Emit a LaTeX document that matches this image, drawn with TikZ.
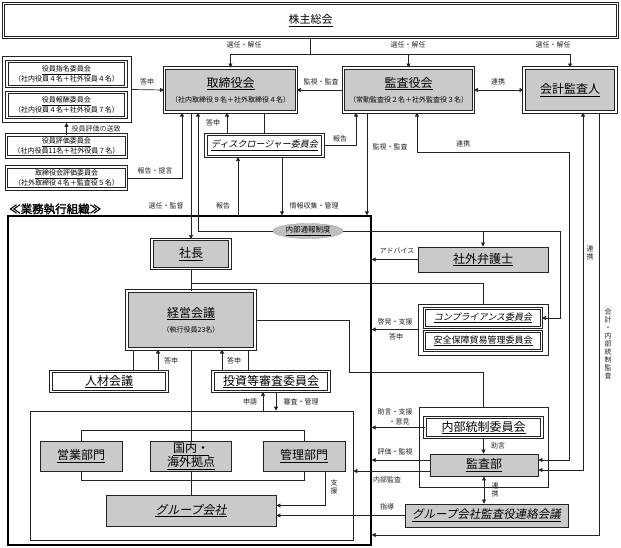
\documentclass[tikz,border=0pt]{standalone}
\usepackage{fontspec}
\setmainfont{Noto Sans CJK JP}
\newfontfamily\jit{Noto Sans CJK JP}[FakeSlant=0.2]
\newfontfamily\jbf{Noto Sans CJK JP}[FakeBold=2]
\usetikzlibrary{arrows.meta,shapes.geometric}
\definecolor{lncol}{RGB}{35,35,35}
\definecolor{boxgray}{RGB}{202,202,202}
\newcommand\jsz[1]{\fontsize{#1}{#1}\selectfont}
\begin{document}
\begin{tikzpicture}[x=1pt,y=-1pt,
  base/.style={draw=lncol, line width=0.9pt, inner sep=0pt, align=center, font=\fontsize{12}{14}\selectfont},
  dbl/.style={base, line width=1pt, double=white, double distance=1.4pt},
  gdbl/.style={dbl, fill=boxgray},
  wdbl/.style={dbl, fill=white},
  gbox/.style={base, fill=boxgray},
  grp/.style={draw=lncol, line width=0.65pt, inner sep=0pt},
  conn/.style={draw=lncol, line width=0.7pt},
  arr/.style={conn, -{Triangle[length=4pt,width=4pt]}},
  darr/.style={conn, {Triangle[length=4pt,width=4pt]}-{Triangle[length=4pt,width=4pt]}},
  lbl/.style={font=\fontsize{7}{8.5}\selectfont, inner sep=0.5pt, text=black!85, align=center},
  vlbl/.style={font=\fontsize{7}{8}\selectfont, inner sep=0.5pt, text=black!85, align=center},
  small/.style={font=\fontsize{7}{8.2}\selectfont}
]
\useasboundingbox (0,0) rectangle (621,547);

% ---- top level
\node[wdbl, minimum width=614pt, minimum height=34pt, font=\fontsize{11}{13}\selectfont] (kabu) at (310.5,20.5) {\underline{株主総会}};
\node[gdbl, minimum width=132pt, minimum height=44pt] (tori) at (230.5,90) {\underline{取締役会}\\[1pt]{\jsz{7}（社内取締役９名＋社外取締役４名）}};
\node[gdbl, minimum width=130pt, minimum height=44pt] (kansa) at (408.5,90) {\underline{監査役会}\\[1pt]{\jsz{7}（常勤監査役２名＋社外監査役３名）}};
\node[gdbl, minimum width=92pt, minimum height=44pt] (kaikei) at (570,90) {\underline{会計監査人}};

% ---- left committees
\node[grp, minimum width=129pt, minimum height=66pt] (lgrp) at (66.5,89.5) {};
\node[wdbl, small, minimum width=119pt, minimum height=25pt] (shimei) at (66.5,74) {\underline{役員指名委員会}\\（社内役員４名＋社外役員４名）};
\node[wdbl, small, minimum width=119pt, minimum height=25pt] (hoshu) at (66.5,105) {\underline{役員報酬委員会}\\（社内役員４名＋社外役員７名）};
\node[wdbl, small, minimum width=120pt, minimum height=22pt] (hyoka) at (66.5,146) {\underline{役員評価委員会}\\（社内役員11名＋社外役員７名）};
\node[wdbl, small, minimum width=120pt, minimum height=22pt] (torihyoka) at (66.5,178) {\underline{取締役会評価委員会}\\（社外取締役４名＋監査役５名）};

% ---- disclosure
\node[wdbl, minimum width=117pt, minimum height=22pt, font=\jit\fontsize{9}{10}\selectfont] (disc) at (264.5,145.5) {\underline{ディスクロージャー委員会}};

% ---- execution organisation
\node[anchor=west, font=\jbf\fontsize{11.5}{12}\selectfont, inner sep=0pt] (title) at (9,209) {≪業務執行組織≫};
\node[draw=black, line width=1.3pt, minimum width=363pt, minimum height=329pt, inner sep=0pt] (big) at (189.5,380.5) {};
\node[ellipse, fill=gray!50, draw=gray!70, line width=0.4pt, minimum width=70pt, minimum height=15pt, inner sep=0pt, font=\fontsize{7.5}{8}\selectfont] (tsuho) at (308,231) {\underline{内部通報制度}};

\node[gdbl, minimum width=78pt, minimum height=29pt] (shacho) at (191,254) {\underline{社長}};
\node[gdbl, minimum width=128pt, minimum height=58pt] (keiei) at (191,320) {\underline{経営会議}\\[1pt]{\jsz{7}（執行役員23名）}};
\node[wdbl, minimum width=116pt, minimum height=20pt] (jinzai) at (109,381.5) {\underline{人材会議}};
\node[wdbl, minimum width=116pt, minimum height=20pt] (toshi) at (271,381.5) {\underline{投資等審査委員会}};

\node[grp, minimum width=323pt, minimum height=129pt] (divgrp) at (191.5,475.5) {};
\node[gbox, minimum width=82pt, minimum height=30pt] (eigyo) at (81,456) {\underline{営業部門}};
\node[gbox, minimum width=81pt, minimum height=30pt, font=\fontsize{12}{13}\selectfont] (kokunai) at (191,456) {\underline{国内・}\\\underline{海外拠点}};
\node[gbox, minimum width=82pt, minimum height=30pt] (kanri) at (304,456) {\underline{管理部門}};
\node[gbox, minimum width=170pt, minimum height=31pt, font=\jit\fontsize{12}{14}\selectfont] (group) at (191,510.5) {\underline{グループ会社}};

% ---- right side
\node[gbox, minimum width=130pt, minimum height=25pt] (bengoshi) at (483,259.5) {\underline{社外弁護士}};
\node[grp, minimum width=130pt, minimum height=51pt] (compgrp) at (483,329.5) {};
\node[wdbl, minimum width=117pt, minimum height=19pt, font=\jit\fontsize{9}{10}\selectfont] (comp) at (483,318) {\underline{コンプライアンス委員会}};
\node[wdbl, minimum width=117pt, minimum height=19pt, font=\fontsize{9}{10}\selectfont] (anzen) at (483,341) {\underline{安全保障貿易管理委員会}};
\node[grp, minimum width=129pt, minimum height=80pt] (ntgrp) at (483.5,447) {};
\node[wdbl, minimum width=117pt, minimum height=20pt] (naibutosei) at (483.5,427.5) {\underline{内部統制委員会}};
\node[gbox, minimum width=108pt, minimum height=22pt] (kansabu) at (484,465) {\underline{監査部}};
\node[gbox, minimum width=163pt, minimum height=23pt, font=\jit\fontsize{11.5}{13}\selectfont] (renraku) at (486.5,515.5) {\underline{グループ会社監査役連絡会議}};

% ---- connectors: top
\draw[conn] (kabu.south) -- (kabu.south |- 0,54) coordinate (bus);
\draw[arr] (bus) -| (tori.north);
\draw[arr] (bus) -| (kansa.north);
\draw[arr] (bus) -| (kaikei.north);
\node[lbl] (l1) at (244,45) {選任・解任};
\node[lbl] (l2) at (408,45) {選任・解任};
\node[lbl] (l3) at (553,45) {選任・解任};
\draw[arr] (kansa.west) -- (tori.east);
\node[lbl] (l4) at (321,82) {監視・監査};
\draw[darr] (kansa.east) -- (kaikei.west);
\node[lbl] (l5) at (498,82) {連携};
\draw[arr] (lgrp.east) -- (tori.west);
\node[lbl] (l6) at (147,82) {答申};
\draw[arr] (hyoka.north) -- (hyoka.north |- lgrp.south);
\node[lbl, anchor=west] (l7) at (71,129) {役員評価の送致};
\draw[arr] (torihyoka.east) -| (tori.south -| 182,0);
\node[lbl] (l8) at (155,171) {報告・提言};

% ---- disclosure connectors
\draw[arr] (disc.north -| 227,0) -- (tori.south -| 227,0);
\node[lbl] (l9) at (213,123) {答申};
\draw[conn] (disc.north) -- (disc.north |- tori.south);
\draw[arr] (disc.east) -| (kansa.south -| 356,0);
\node[lbl] (l10) at (340,139) {報告};
\draw[arr] (big.north -| 238,0) -- (disc.south -| 238,0);
\node[lbl] (l11) at (223,206) {報告};
\draw[arr] (disc.south -| 282,0) -- (big.north -| 282,0);
\node[lbl] (l12) at (314,206) {情報収集・管理};
\draw[arr] (kansa.south -| 367,0) -- (big.north -| 367,0);
\node[lbl] (l13) at (390,147) {監視・監査};

% ---- board to president
\draw[arr] (tori.south -| shacho.north) -- (shacho.north);
\node[lbl] (l14) at (166,206) {選任・監督};
\draw[arr] (tsuho.west) -| (tori.south -| 198,0);
\draw[conn] (tsuho.east) -- (560,231) coordinate (tr);
\draw[arr] (tr) |- (comp.east);
\draw[arr] (tsuho.east -| bengoshi.north) -- (bengoshi.north);

% ---- audit links
\draw[darr] (kansa.south -| 417,0) |- (569,152) |- ([yshift=5pt]kansabu.east);
\node[lbl] (l15) at (463,144) {連携};
\draw[darr] (kaikei.south -| 583,0) |- ([yshift=-5pt]kansabu.east);
\node[vlbl] (l16) at (590,253) {連\\携};
\draw[arr] (kaikei.south -| 599,0) |- (big.east |- 0,535);
\node[vlbl] (l17) at (608,344) {会\\計\\・\\内\\部\\統\\制\\監\\査};

% ---- president / management meeting
\draw[conn] (shacho.south) -- (keiei.north);
\draw[conn] (shacho.south |- 0,283) -| (compgrp.north);
\draw[conn] (keiei.east) -| (349,372) -| (ntgrp.north);
\draw[conn] (jinzai.north -| 133,0) -- (keiei.south -| 133,0);
\draw[arr] (jinzai.north -| 158,0) -- (keiei.south -| 158,0);
\node[lbl] (l18) at (171,361) {答申};
\draw[arr] (toshi.north -| 222,0) -- (keiei.south -| 222,0);
\node[lbl] (l19) at (234,361) {答申};
\draw[conn] (toshi.north -| 248,0) -- (keiei.south -| 248,0);
\draw[arr] (divgrp.north -| 263,0) -- (toshi.south -| 263,0);
\node[lbl] (l20) at (250,402) {申請};
\draw[arr] (toshi.south -| 276,0) -- (divgrp.north -| 276,0);
\node[lbl] (l21) at (301,402) {審査・管理};

% ---- divisions
\draw[conn] (keiei.south) -- (kokunai.north);
\draw[conn] (kokunai.south) -- (group.north);
\draw[conn] (eigyo.north) -- ++(0,-10) -| (kanri.north);
\draw[conn] (eigyo.south) -- ++(0,9) -| (kanri.south);
\draw[arr] (kanri.south -| 325,0) |- ([yshift=5pt]group.east);
\node[vlbl] (l22) at (334,487) {支\\援};

% ---- right side arrows
\draw[arr] (bengoshi.west) -- (bengoshi.west -| big.east);
\node[lbl] (l23) at (397,251) {アドバイス};
\draw[arr] (compgrp.west) -- (compgrp.west -| big.east);
\node[lbl] (l24) at (395,322) {啓発・支援};
\node[lbl] (l25) at (396,337) {答申};
\draw[arr] (naibutosei.west) -- (naibutosei.west -| big.east);
\node[lbl] (l26) at (395,412) {助言・支援};
\node[lbl] (l27) at (399,422) {・意見};
\draw[arr] ([yshift=5pt]kansabu.west) -- ([yshift=5pt]kansabu.west -| big.east);
\node[lbl] (l28) at (395,452) {評価・監視};
\draw[arr] ([yshift=-6pt]kansabu.west) -- ([yshift=-6pt]kansabu.west -| divgrp.east);
\node[lbl] (l29) at (387,480) {内部監査};
\draw[arr] (naibutosei.south) -- (naibutosei.south |- kansabu.north);
\node[lbl] (l30) at (498,446) {助言};
\draw[darr] (kansabu.south) -- (kansabu.south |- renraku.north);
\node[vlbl] (l31) at (495,490) {連\\携};
\draw[arr] (renraku.west) -- (renraku.west -| group.east);
\node[lbl] (l32) at (387,507) {指導};
\end{tikzpicture}
\end{document}
